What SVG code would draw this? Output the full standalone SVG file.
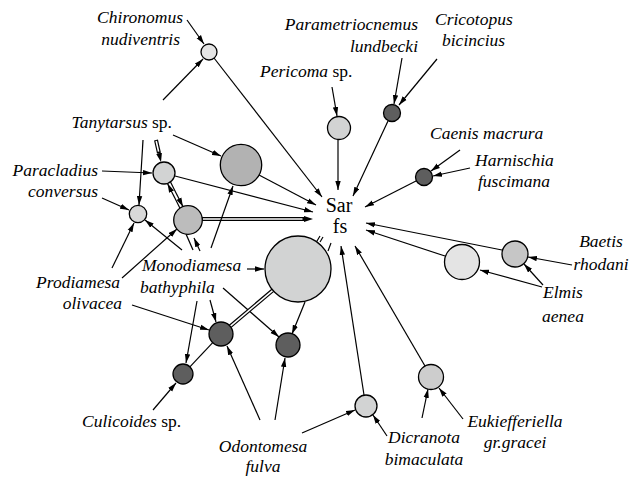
<svg xmlns="http://www.w3.org/2000/svg" width="638" height="477" viewBox="0 0 638 477">
<defs>
<style>
.n{stroke:#000;stroke-width:1.3}
.e{stroke:#000;stroke-width:1.2;fill:none;marker-end:url(#ah)}
.p{stroke:#000;stroke-width:1.2;fill:none}
.d1{stroke:#000;stroke-width:4;fill:none}
.d2{stroke:#fff;stroke-width:1.6;fill:none}
.db{marker-end:url(#ahb)}
.t{font-family:"Liberation Serif","Times New Roman",serif;font-size:17.5px;font-style:italic;fill:#000}
.r{font-style:normal}
.c{font-family:"Liberation Serif","Times New Roman",serif;font-size:20px;text-anchor:middle;fill:#000}
.light{fill:#d2d3d3}
.vlight{fill:#e4e4e4}
.mid{fill:#bcbcbc}
.dark{fill:#5e5e5e}
</style>
<marker id="ah" markerUnits="userSpaceOnUse" markerWidth="10" markerHeight="6" refX="9" refY="3" orient="auto"><path d="M0,0.3 L9,3 L0,5.7 z" fill="#000"/></marker>
<marker id="ahb" markerUnits="userSpaceOnUse" markerWidth="10" markerHeight="7" refX="0" refY="3.5" orient="auto"><path d="M0,0.5 L9,3.5 L0,6.5 z" fill="#000"/></marker>
</defs>
<rect width="638" height="477" fill="#fff"/>

<g id="connectors">
<line class="e" x1="187" y1="20" x2="204" y2="44"/>
<line class="e" x1="163" y1="100" x2="203" y2="59"/>
<line class="e" x1="214" y1="58" x2="322" y2="197"/>
<line class="e" x1="173" y1="135" x2="221" y2="156"/>
<line class="e" x1="143" y1="140" x2="139" y2="205"/>
<line class="d1 db" x1="156" y1="140" x2="159" y2="153.2"/>
<line class="d2" x1="156.2" y1="141" x2="158.6" y2="151.6"/>
<line class="e" x1="102" y1="171" x2="152" y2="173"/>
<line class="e" x1="102" y1="198" x2="129" y2="210"/>
<line class="e" x1="170.5" y1="182" x2="183" y2="206.7"/>
<line class="e" x1="180" y1="208.3" x2="167.5" y2="183.6"/>
<line class="e" x1="175" y1="176" x2="313" y2="212"/>
<line class="e" x1="259" y1="175" x2="316" y2="205"/>
<line class="d1 db" x1="202" y1="219" x2="304" y2="219"/>
<line class="d2" x1="203" y1="219" x2="302.5" y2="219"/>
<line class="e" x1="211" y1="248" x2="233" y2="186"/>
<line class="e" x1="182" y1="250" x2="145" y2="220"/>
<line class="e" x1="112" y1="268" x2="134" y2="223"/>
<line class="e" x1="122" y1="278" x2="177" y2="229"/>
<line class="p" x1="186" y1="234" x2="193" y2="250"/>
<line class="e" x1="200" y1="251" x2="194" y2="238"/>
<line class="e" x1="247" y1="269" x2="264" y2="269"/>
<line class="e" x1="223" y1="288" x2="279" y2="337"/>
<line class="e" x1="305" y1="302" x2="292" y2="334"/>
<line class="d1" x1="272.8" y1="290.3" x2="230.2" y2="326.3"/>
<line class="d2" x1="272.8" y1="290.3" x2="230.2" y2="326.3"/>
<line class="e" x1="210" y1="300" x2="216" y2="322"/>
<line class="e" x1="197" y1="301" x2="186" y2="363"/>
<line class="e" x1="132" y1="305" x2="209" y2="330"/>
<line class="p" x1="212.7" y1="342.7" x2="189.9" y2="366.8"/>
<line class="e" x1="153" y1="410" x2="176" y2="383"/>
<line class="e" x1="260" y1="420" x2="227" y2="346"/>
<line class="e" x1="275" y1="420" x2="285" y2="358"/>
<line class="e" x1="302" y1="433" x2="355" y2="410"/>
<line class="e" x1="387" y1="436" x2="373" y2="415"/>
<line class="e" x1="364" y1="395" x2="341" y2="246"/>
<line class="e" x1="422" y1="418" x2="428" y2="389"/>
<line class="e" x1="463" y1="419" x2="439" y2="388"/>
<line class="e" x1="425" y1="366" x2="355" y2="246"/>
<line class="e" x1="542" y1="287" x2="480" y2="270"/>
<line class="e" x1="543" y1="285" x2="524" y2="264"/>
<line class="e" x1="572" y1="265" x2="528" y2="257"/>
<line class="e" x1="502" y1="250" x2="366" y2="223"/>
<line class="e" x1="445" y1="256" x2="366" y2="230"/>
<line class="e" x1="470" y1="168" x2="433" y2="176"/>
<line class="e" x1="460" y1="150" x2="431" y2="171"/>
<line class="e" x1="416" y1="181" x2="365" y2="207"/>
<line class="e" x1="437" y1="59" x2="399" y2="105"/>
<line class="e" x1="402" y1="58" x2="394" y2="104"/>
<line class="e" x1="388" y1="121" x2="353" y2="196"/>
<line class="e" x1="332" y1="87" x2="337" y2="116"/>
<line class="e" x1="338" y1="140" x2="338" y2="190"/>
<line class="p" x1="317" y1="241" x2="320" y2="236"/>
<line class="p" x1="320" y1="242" x2="323" y2="237"/>
<line class="p" x1="328" y1="251" x2="331" y2="243"/>
</g>

<g id="node-sarfs"><text class="c" x="339" y="212">Sar</text><text class="c" x="340" y="233">fs</text></g>

<g id="node-chironomus"><circle class="n vlight" cx="209" cy="52" r="8"/></g>
<g id="node-pericoma"><circle class="n light" cx="339" cy="128" r="11.5"/></g>
<g id="node-cricotopus"><circle class="n dark" cx="392" cy="113" r="8.5"/></g>
<g id="node-harnischia"><circle class="n dark" cx="424" cy="177" r="8.5"/></g>
<g id="node-tanytarsus"><circle class="n" fill="#b2b2b2" cx="241" cy="165" r="20.7"/></g>
<g id="node-paracladius-upper"><circle class="n light" cx="164" cy="173" r="11"/></g>
<g id="node-paracladius-left"><circle class="n" fill="#d8d8d8" cx="138" cy="214" r="8.7"/></g>
<g id="node-prodiamesa"><circle class="n mid" cx="188" cy="220" r="14.3"/></g>
<g id="node-monodiamesa"><circle class="n light" cx="298" cy="269" r="33"/></g>
<g id="node-dark1"><circle class="n dark" cx="221" cy="334" r="12"/></g>
<g id="node-dark2"><circle class="n dark" cx="288" cy="345" r="12"/></g>
<g id="node-culicoides"><circle class="n dark" cx="183" cy="374" r="10"/></g>
<g id="node-dicranota"><circle class="n light" cx="366" cy="406" r="11"/></g>
<g id="node-eukiefferiella"><circle class="n" fill="#cdcdcd" cx="431" cy="377" r="12.5"/></g>
<g id="node-elmis"><circle class="n vlight" cx="462" cy="262" r="17.5"/></g>
<g id="node-baetis"><circle class="n" fill="#c6c6c6" cx="515" cy="254" r="13"/></g>

<g id="labels">
<text class="t" x="183" y="23" text-anchor="end">Chironomus</text>
<text class="t" x="180" y="45" text-anchor="end">nudiventris</text>
<text class="t" x="418" y="30" text-anchor="end">Parametriocnemus</text>
<text class="t" x="418" y="52" text-anchor="end">lundbecki</text>
<text class="t" x="435" y="25">Cricotopus</text>
<text class="t" x="442" y="46">bicincius</text>
<text class="t" x="260" y="77">Pericoma<tspan class="r"> sp.</tspan></text>
<text class="t" x="172" y="128" text-anchor="end">Tanytarsus<tspan class="r"> sp.</tspan></text>
<text class="t" x="430" y="139">Caenis macrura</text>
<text class="t" x="475" y="166">Harnischia</text>
<text class="t" x="478" y="187">fuscimana</text>
<text class="t" x="98" y="176" text-anchor="end">Paracladius</text>
<text class="t" x="98" y="197" text-anchor="end">conversus</text>
<text class="t" x="601" y="247" text-anchor="middle">Baetis</text>
<text class="t" x="601" y="270" text-anchor="middle">rhodani</text>
<text class="t" x="563" y="298" text-anchor="middle">Elmis</text>
<text class="t" x="563" y="322" text-anchor="middle">aenea</text>
<text class="t" x="120" y="288" text-anchor="end">Prodiamesa</text>
<text class="t" x="122" y="309" text-anchor="end">olivacea</text>
<text class="t" x="142" y="271">Monodiamesa</text>
<text class="t" x="140" y="293">bathyphila</text>
<text class="t" x="82" y="427">Culicoides<tspan class="r"> sp.</tspan></text>
<text class="t" x="263" y="452" text-anchor="middle">Odontomesa</text>
<text class="t" x="263" y="472" text-anchor="middle">fulva</text>
<text class="t" x="424" y="443" text-anchor="middle">Dicranota</text>
<text class="t" x="424" y="465" text-anchor="middle">bimaculata</text>
<text class="t" x="515" y="427" text-anchor="middle">Eukiefferiella</text>
<text class="t" x="515" y="448" text-anchor="middle">gr.gracei</text>
</g>
</svg>
